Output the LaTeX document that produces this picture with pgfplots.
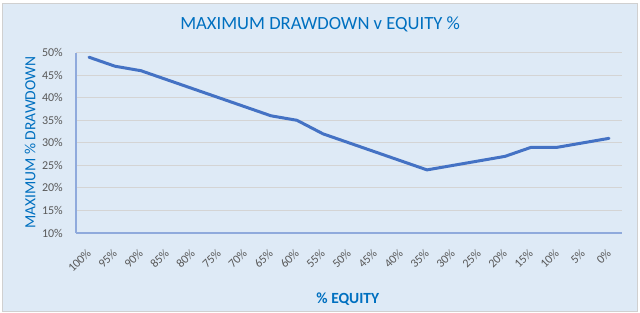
\documentclass[border=0pt]{standalone}
\usepackage{pgfplots}
\pgfplotsset{compat=1.18}
\usepackage{fontspec}
\setmainfont{Carlito}

\definecolor{chartbg}{HTML}{DEEAF6}
\definecolor{titleblue}{HTML}{0070C0}
\definecolor{linecol}{HTML}{4472C4}
\definecolor{gridcol}{HTML}{D4D4D4}
\definecolor{axiscol}{HTML}{8FAADC}
\definecolor{ticklab}{HTML}{595959}
\definecolor{cellgray}{HTML}{D0D0D0}

\begin{document}
\begin{tikzpicture}
\useasboundingbox (0pt,0pt) rectangle (640pt,313pt);
\fill[white] (0pt,0pt) rectangle (640pt,313pt);
\fill[chartbg] (2pt,2pt) rectangle (637pt,310pt);
\draw[cellgray, line width=0.6pt] (2pt,2pt) rectangle (637pt,310pt);
\coordinate (plotorigin) at (76pt,80pt);
\begin{axis}[
  at={(plotorigin)}, anchor=south west,
  scale only axis,
  width=546pt, height=180.3pt,
  xmin=-0.5, xmax=20.5,
  ymin=10, ymax=50,
  xtick={0,...,20},
  xticklabels={100\%,95\%,90\%,85\%,80\%,75\%,70\%,65\%,60\%,55\%,50\%,45\%,40\%,35\%,30\%,25\%,20\%,15\%,10\%,5\%,0\%},
  ytick={10,15,20,25,30,35,40,45,50},
  yticklabels={10\%,15\%,20\%,25\%,30\%,35\%,40\%,45\%,50\%},
  major tick length=0pt,
  axis x line*=bottom, axis y line*=left,
  axis line style={axiscol, line width=1.4pt, -},
  ymajorgrids,
  grid style={gridcol, line width=1pt},
  tick label style={font=\fontsize{12}{14}\selectfont, color=ticklab},
  yticklabel style={anchor=east, inner sep=0pt, xshift=-13pt},
  xticklabel style={yshift=-18pt, rotate=45, anchor=east, inner sep=0pt},
  title={MAXIMUM DRAWDOWN v EQUITY \%},
  title style={at={(axis description cs:0.447,1.1226)}, anchor=center,
    font=\fontsize{18.6}{20}\selectfont, color=titleblue},
  xlabel={\textbf{\% EQUITY}},
  xlabel style={at={(axis description cs:0.498,-0.369)}, anchor=center,
    font=\fontsize{15.5}{17}\selectfont, color=titleblue},
  ylabel={MAXIMUM \% DRAWDOWN},
  ylabel style={at={(axis description cs:-0.084,0.5)}, anchor=center, rotate=0,
    font=\fontsize{15.5}{17}\selectfont, color=titleblue},
  clip=false,
]
\addplot[color=linecol, line width=3pt, line join=round, line cap=round] coordinates {
  (0,49) (1,47) (2,46) (3,44) (4,42) (5,40) (6,38) (7,36) (8,35) (9,32) (10,30)
  (11,28) (12,26) (13,24) (14,25) (15,26) (16,27) (17,29) (18,29) (19,30) (20,31)
};
\end{axis}
\end{tikzpicture}
\end{document}
